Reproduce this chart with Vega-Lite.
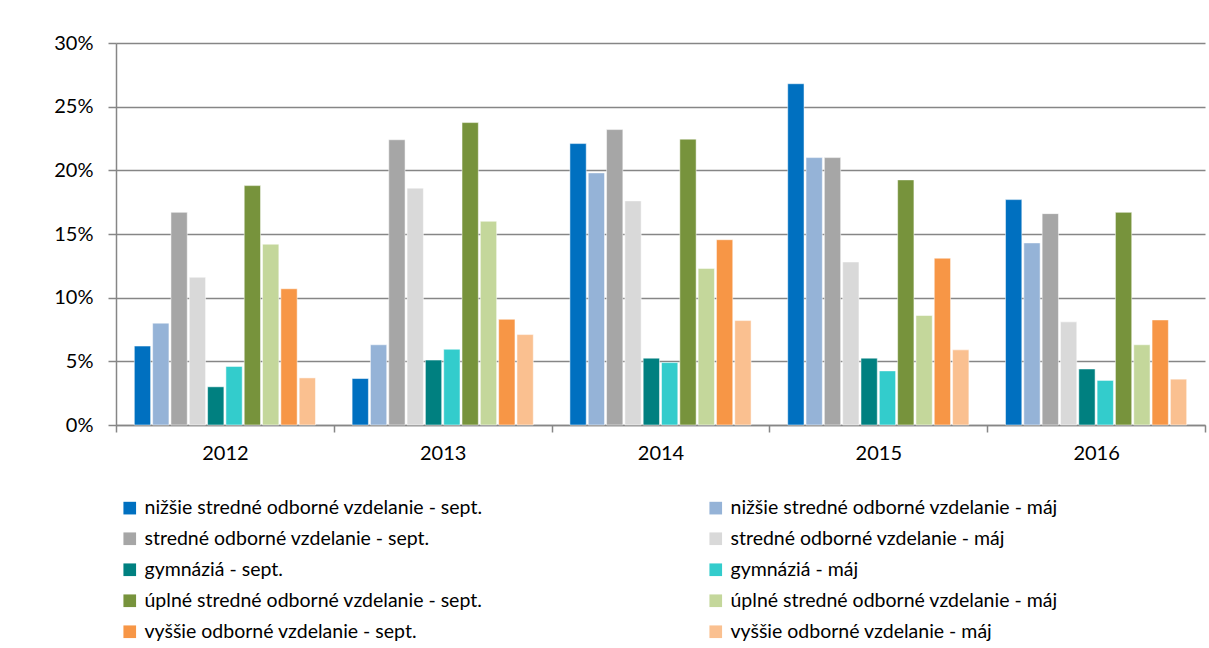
{
  "$schema": "https://vega.github.io/schema/vega-lite/v6.json",
  "width": 1089,
  "height": 382,
  "autosize": "none",
  "padding": {"left": 116, "top": 43, "right": 4, "bottom": 223},
  "background": "white",
  "config": {
    "font": "Lato",
    "view": {"stroke": null},
    "axis": {"labelFont": "Lato", "labelFontSize": 20, "labelColor": "#000000"}
  },
  "data": {
    "values": [
      {"year": "2012", "series": "nižšie stredné odborné vzdelanie - sept.", "value": 6.2},
      {"year": "2012", "series": "nižšie stredné odborné vzdelanie - máj", "value": 8.0},
      {"year": "2012", "series": "stredné odborné vzdelanie - sept.", "value": 16.7},
      {"year": "2012", "series": "stredné odborné vzdelanie - máj", "value": 11.6},
      {"year": "2012", "series": "gymnáziá - sept.", "value": 3.0},
      {"year": "2012", "series": "gymnáziá - máj", "value": 4.6},
      {"year": "2012", "series": "úplné stredné odborné vzdelanie - sept.", "value": 18.8},
      {"year": "2012", "series": "úplné stredné odborné vzdelanie - máj", "value": 14.2},
      {"year": "2012", "series": "vyššie odborné vzdelanie - sept.", "value": 10.7},
      {"year": "2012", "series": "vyššie odborné vzdelanie - máj", "value": 3.7},
      {"year": "2013", "series": "nižšie stredné odborné vzdelanie - sept.", "value": 3.65},
      {"year": "2013", "series": "nižšie stredné odborné vzdelanie - máj", "value": 6.3},
      {"year": "2013", "series": "stredné odborné vzdelanie - sept.", "value": 22.4},
      {"year": "2013", "series": "stredné odborné vzdelanie - máj", "value": 18.6},
      {"year": "2013", "series": "gymnáziá - sept.", "value": 5.1},
      {"year": "2013", "series": "gymnáziá - máj", "value": 5.95},
      {"year": "2013", "series": "úplné stredné odborné vzdelanie - sept.", "value": 23.75},
      {"year": "2013", "series": "úplné stredné odborné vzdelanie - máj", "value": 16.0},
      {"year": "2013", "series": "vyššie odborné vzdelanie - sept.", "value": 8.3},
      {"year": "2013", "series": "vyššie odborné vzdelanie - máj", "value": 7.1},
      {"year": "2014", "series": "nižšie stredné odborné vzdelanie - sept.", "value": 22.1},
      {"year": "2014", "series": "nižšie stredné odborné vzdelanie - máj", "value": 19.8},
      {"year": "2014", "series": "stredné odborné vzdelanie - sept.", "value": 23.2},
      {"year": "2014", "series": "stredné odborné vzdelanie - máj", "value": 17.6},
      {"year": "2014", "series": "gymnáziá - sept.", "value": 5.25},
      {"year": "2014", "series": "gymnáziá - máj", "value": 4.9},
      {"year": "2014", "series": "úplné stredné odborné vzdelanie - sept.", "value": 22.45},
      {"year": "2014", "series": "úplné stredné odborné vzdelanie - máj", "value": 12.3},
      {"year": "2014", "series": "vyššie odborné vzdelanie - sept.", "value": 14.55},
      {"year": "2014", "series": "vyššie odborné vzdelanie - máj", "value": 8.2},
      {"year": "2015", "series": "nižšie stredné odborné vzdelanie - sept.", "value": 26.8},
      {"year": "2015", "series": "nižšie stredné odborné vzdelanie - máj", "value": 21.0},
      {"year": "2015", "series": "stredné odborné vzdelanie - sept.", "value": 21.0},
      {"year": "2015", "series": "stredné odborné vzdelanie - máj", "value": 12.8},
      {"year": "2015", "series": "gymnáziá - sept.", "value": 5.25},
      {"year": "2015", "series": "gymnáziá - máj", "value": 4.25},
      {"year": "2015", "series": "úplné stredné odborné vzdelanie - sept.", "value": 19.25},
      {"year": "2015", "series": "úplné stredné odborné vzdelanie - máj", "value": 8.6},
      {"year": "2015", "series": "vyššie odborné vzdelanie - sept.", "value": 13.1},
      {"year": "2015", "series": "vyššie odborné vzdelanie - máj", "value": 5.9},
      {"year": "2016", "series": "nižšie stredné odborné vzdelanie - sept.", "value": 17.7},
      {"year": "2016", "series": "nižšie stredné odborné vzdelanie - máj", "value": 14.3},
      {"year": "2016", "series": "stredné odborné vzdelanie - sept.", "value": 16.6},
      {"year": "2016", "series": "stredné odborné vzdelanie - máj", "value": 8.1},
      {"year": "2016", "series": "gymnáziá - sept.", "value": 4.4},
      {"year": "2016", "series": "gymnáziá - máj", "value": 3.5},
      {"year": "2016", "series": "úplné stredné odborné vzdelanie - sept.", "value": 16.7},
      {"year": "2016", "series": "úplné stredné odborné vzdelanie - máj", "value": 6.3},
      {"year": "2016", "series": "vyššie odborné vzdelanie - sept.", "value": 8.25},
      {"year": "2016", "series": "vyššie odborné vzdelanie - máj", "value": 3.6}
    ]
  },
  "mark": {"type": "bar", "stroke": "#ffffff", "strokeOpacity": 0.5, "strokeWidth": 1},
  "encoding": {
    "x": {
      "field": "year",
      "type": "nominal",
      "scale": {"paddingInner": 0, "paddingOuter": 0},
      "axis": {
        "title": null,
        "labelAngle": 0,
        "tickBand": "extent",
        "domainColor": "#868686",
        "domainWidth": 1.5,
        "tickColor": "#868686",
        "tickWidth": 1.5,
        "tickSize": 7,
        "labelPadding": 11
      }
    },
    "xOffset": {
      "field": "series",
      "type": "nominal",
      "sort": null,
      "scale": {"paddingInner": 0.11, "paddingOuter": 1.1}
    },
    "y": {
      "field": "value",
      "type": "quantitative",
      "scale": {"domain": [0, 30], "nice": false},
      "axis": {
        "title": null,
        "values": [0, 5, 10, 15, 20, 25, 30],
        "labelExpr": "datum.value + '%'",
        "gridColor": "#868686",
        "gridWidth": 1.5,
        "domainColor": "#868686",
        "domainWidth": 1.5,
        "tickColor": "#868686",
        "tickWidth": 1.5,
        "tickSize": 8,
        "labelPadding": 15
      }
    },
    "color": {
      "field": "series",
      "type": "nominal",
      "sort": null,
      "scale": {
        "domain": [
          "nižšie stredné odborné vzdelanie - sept.",
          "nižšie stredné odborné vzdelanie - máj",
          "stredné odborné vzdelanie - sept.",
          "stredné odborné vzdelanie - máj",
          "gymnáziá - sept.",
          "gymnáziá - máj",
          "úplné stredné odborné vzdelanie - sept.",
          "úplné stredné odborné vzdelanie - máj",
          "vyššie odborné vzdelanie - sept.",
          "vyššie odborné vzdelanie - máj"
        ],
        "range": ["#0070C0", "#95B3D7", "#A6A6A6", "#D9D9D9", "#008080", "#33CCCC", "#77933C", "#C4D79B", "#F79646", "#FAC090"]
      },
      "legend": {
        "title": null,
        "orient": "none",
        "direction": "horizontal",
        "legendX": 4,
        "legendY": 455,
        "columns": 2,
        "gridAlign": "all",
        "columnPadding": 223,
        "rowPadding": 10,
        "symbolType": "square",
        "symbolSize": 160,
        "symbolStrokeWidth": 0,
        "labelFont": "Lato",
        "labelFontSize": 19.5,
        "labelColor": "#000000",
        "labelOffset": 5,
        "labelLimit": 600
      }
    }
  }
}
